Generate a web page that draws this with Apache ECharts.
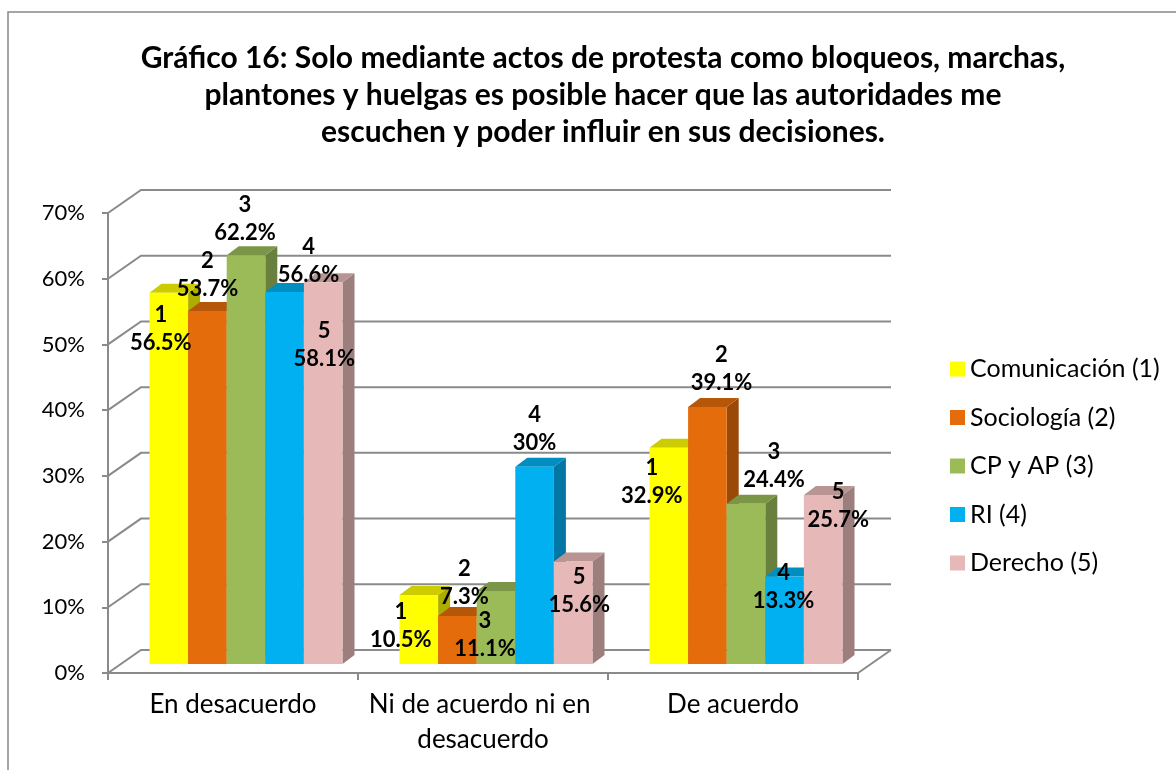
<!DOCTYPE html>
<html>
	<head>
		<meta charset="utf-8">
		<title>Gráfico 16</title>
		<script src="https://cdn.jsdelivr.net/npm/echarts@6/dist/echarts.min.js"></script>
		<style>
			html, body { margin: 0; padding: 0; background: #fff; }
		</style>
	</head>
	<body>
		<div id="main" style="width: 1176px;height:770px;"></div>

		<script type="text/javascript">
			// categorías del eje x
			var categories = ['En desacuerdo', 'Ni de acuerdo ni en desacuerdo', 'De acuerdo'];
			// nombres de las series (leyenda)
			var seriesNames = ['Comunicación (1)', 'Sociología (2)', 'CP y AP (3)', 'RI (4)', 'Derecho (5)'];
			// valores en %
			var comunicacion = [56.5, 10.5, 32.9];
			var sociologia = [53.7, 7.3, 39.1];
			var cpyap = [62.2, 11.1, 24.4];
			var ri = [56.6, 30, 13.3];
			var derecho = [58.1, 15.6, 25.7];
			var yTicks = [0, 10, 20, 30, 40, 50, 60, 70];

			var values = [comunicacion, sociologia, cpyap, ri, derecho];

			// colores: frente, tapa, lado
			var faceColors = [
				['#FFFF00', '#CCCC00', '#ADAD00'],
				['#E46C0A', '#B65608', '#9B4907'],
				['#9BBB59', '#7C9647', '#697F3D'],
				['#00B0F0', '#008DC0', '#0078A3'],
				['#E6B9B8', '#B89493', '#9C7E7D']
			];
			// desplazamiento de las etiquetas respecto al centro de la tapa (como en Excel)
			var labelShift = [
				[[-8, 36], [-18, 31], [-17, 34]],
				[[0, -36], [7, -33], [14, -38]],
				[[-1, -36], [-11, 44], [28, -38]],
				[[24, -31], [0, -38], [-1, 10]],
				[[1, 63], [6, 29], [15, 11]]
			];

			var FONT = 'Lato, "Open Sans", sans-serif';
			var GRAY = '#8a8a8a';
			var WALL_DX = 33, WALL_DY = -23;   // profundidad del fondo
			var BAR_DX = 12, BAR_DY = -9;      // profundidad de cada barra
			var FRONT_DX = 13, FRONT_DY = -9;  // cara frontal de las barras

			var myChart = echarts.init(document.getElementById('main'));

			function renderWall(params, api) {
				var v = api.value(1);
				var band = api.size([1, 0])[0];
				var p = api.coord([0, v]);
				var left = p[0] - band / 2;
				var right = api.coord([categories.length - 1, v])[0] + band / 2;
				var y = p[1];
				var children = [{
					type: 'polyline',
					shape: { points: [[left, y], [left + WALL_DX, y + WALL_DY], [right + WALL_DX, y + WALL_DY]] },
					style: { stroke: GRAY, lineWidth: 2, fill: null }
				}];
				if (v === 0) {
					children.push({
						type: 'line',
						shape: { x1: right, y1: y, x2: right + WALL_DX, y2: y + WALL_DY },
						style: { stroke: GRAY, lineWidth: 2 }
					});
				}
				return { type: 'group', children: children };
			}

			function makeRenderBar(s) {
				return function (params, api) {
					var i = api.value(0);
					var v = api.value(1);
					var band = api.size([1, 0])[0];
					var bw = band * 0.1544;
					var base = api.coord([i, 0]);
					var top = api.coord([i, v]);
					var x0 = base[0] - 2.5 * bw + s * bw + FRONT_DX;
					var y0 = base[1] + FRONT_DY;
					var y1 = top[1] + FRONT_DY;
					var c = faceColors[s];
					var sh = labelShift[s][i];
					return {
						type: 'group',
						children: [
							{
								type: 'polygon', z2: s * 3,
								shape: { points: [[x0 + bw, y1], [x0 + bw + BAR_DX, y1 + BAR_DY], [x0 + bw + BAR_DX, y0 + BAR_DY], [x0 + bw, y0]] },
								style: { fill: c[2] }
							},
							{
								type: 'polygon', z2: s * 3 + 1,
								shape: { points: [[x0, y1], [x0 + bw, y1], [x0 + bw + BAR_DX, y1 + BAR_DY], [x0 + BAR_DX, y1 + BAR_DY]] },
								style: { fill: c[1] }
							},
							{
								type: 'rect', z2: s * 3 + 2,
								shape: { x: x0, y: y1, width: bw, height: y0 - y1 },
								style: { fill: c[0] }
							},
							{
								type: 'text', z2: 100,
								x: x0 + bw / 2 + sh[0],
								y: y1 + sh[1],
								style: {
									text: (s + 1) + '\n' + v + '%',
									fill: '#000',
									font: 'bold 22px ' + FONT,
									align: 'center',
									verticalAlign: 'middle',
									lineHeight: 28
								}
							}
						]
					};
				};
			}

			var series = [{
				name: 'fondo',
				type: 'custom',
				z: 1,
				renderItem: renderWall,
				data: yTicks.map(function (t) { return [0, t]; })
			}];
			seriesNames.forEach(function (name, s) {
				series.push({
					name: name,
					type: 'custom',
					z: 2,
					itemStyle: { color: faceColors[s][0] },
					renderItem: makeRenderBar(s),
					data: values[s].map(function (v, i) { return [i, v]; })
				});
			});

			var option = {
				animation: false,
				backgroundColor: '#fff',
				title: {
					text: 'Gráfico 16: Solo mediante actos de protesta como bloqueos, marchas,\nplantones y huelgas es posible hacer que las autoridades me\nescuchen y poder influir en sus decisiones.',
					left: 598,
					textAlign: 'center',
					top: 35,
					textStyle: {
						fontFamily: FONT,
						fontSize: 30,
						fontWeight: 'bold',
						color: '#000',
						lineHeight: 37
					}
				},
				legend: {
					data: seriesNames,
					orient: 'vertical',
					left: 945,
					top: 350,
					icon: 'rect',
					itemWidth: 15,
					itemHeight: 15,
					itemGap: 20.5,
					textStyle: { fontFamily: FONT, fontSize: 25, color: '#000', lineHeight: 28 }
				},
				grid: {
					left: 108,
					right: 318,
					top: 213,
					bottom: 97,
					outerBoundsMode: 'none'
				},
				xAxis: {
					type: 'category',
					data: categories,
					axisLine: { lineStyle: { color: GRAY, width: 2 } },
					axisTick: { show: true, length: 7, lineStyle: { color: GRAY, width: 2 } },
					axisLabel: {
						fontFamily: FONT,
						fontSize: 26,
						color: '#000',
						margin: 14,
						lineHeight: 35,
						width: 240,
						overflow: 'break',
						interval: 0
					},
					splitLine: { show: false }
				},
				yAxis: {
					type: 'value',
					min: 0,
					max: 70,
					interval: 10,
					axisLine: { show: true, lineStyle: { color: GRAY, width: 2 } },
					axisTick: { show: true, length: 6, lineStyle: { color: GRAY, width: 2 } },
					axisLabel: {
						formatter: '{value}%',
						fontFamily: FONT,
						fontSize: 22,
						color: '#000',
						margin: 23
					},
					splitLine: { show: false }
				},
				graphic: [{
					type: 'rect',
					shape: { x: 8, y: 12, width: 1300, height: 900 },
					style: { fill: null, stroke: '#888', lineWidth: 1.5 },
					silent: true
				}],
				series: series
			};

			myChart.setOption(option);
		</script>
	</body>
</html>
